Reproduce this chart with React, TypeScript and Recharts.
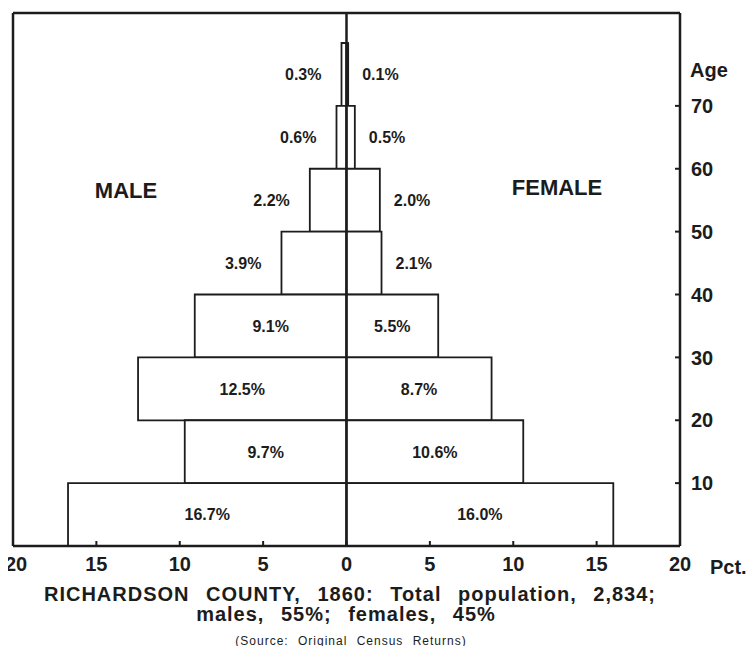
import { BarChart, Bar, XAxis, YAxis, ReferenceLine, LabelList } from "recharts";

const AGE_GROUPS = ["0-10", "10-20", "20-30", "30-40", "40-50", "50-60", "60-70", "70-80"];
const MALE_PCT = [16.7, 9.7, 12.5, 9.1, 3.9, 2.2, 0.6, 0.3];
const FEMALE_PCT = [16.0, 10.6, 8.7, 5.5, 2.1, 2.0, 0.5, 0.1];
const PCT_TICKS = [-20, -15, -10, -5, 0, 5, 10, 15, 20];
const AGE_TICKS = [10, 20, 30, 40, 50, 60, 70];

const INK = "#1c1c1c";
const FONT = "'Liberation Sans', Arial, sans-serif";
const TOP_GAP = 30;

// labels sit inside wide bars, outside narrow ones
const renderLabel = (side: "male" | "female") => (props: any) => {
  const { x, y, width, height, value } = props;
  const v = Math.abs(Number(value));
  const left = Math.min(x, x + width);
  const right = Math.max(x, x + width);
  let tx = (left + right) / 2;
  let anchor: "middle" | "end" | "start" = "middle";
  if (v < 5) {
    if (side === "male") {
      tx = left - 20;
      anchor = "end";
    } else {
      tx = right + 14;
      anchor = "start";
    }
  }
  return (
    <text x={tx} y={y + height / 2} dy="0.36em" textAnchor={anchor} fontSize={16} fontWeight={700} fill={INK} fontFamily={FONT}>
      {v.toFixed(1)}%
    </text>
  );
};

// percent ticks, left-most one nudged so it stays on the page
function PctTick(props: any) {
  const { x, y, payload } = props;
  const nudge = payload.value === PCT_TICKS[0] ? 3 : 0;
  return (
    <text x={x + nudge} y={y} dy="0.71em" textAnchor="middle" fontSize={20} fontWeight={700} fill={INK} fontFamily={FONT}>
      {Math.abs(payload.value)}
    </text>
  );
}

// age ticks sit on the lower edge of each band
function AgeTick(props: any) {
  const { x, y, payload, height, visibleTicksCount } = props;
  const from = parseInt(String(payload.value), 10);
  if (!AGE_TICKS.includes(from)) return null;
  let half = payload.offset;
  if (!half || half <= 0) half = (height - TOP_GAP) / visibleTicksCount / 2;
  const ty = y + half;
  return (
    <g>
      <line x1={x - 5} y1={ty} x2={x} y2={ty} stroke={INK} strokeWidth={2} />
      <text x={x + 11} y={ty} dy="0.36em" fontSize={20} fontWeight={700} fill={INK} fontFamily={FONT}>
        {from}
      </text>
    </g>
  );
}

export default function App() {
  const data = AGE_GROUPS.map((age, i) => ({ age, male: -MALE_PCT[i], female: FEMALE_PCT[i] })).reverse();

  return (
    <div style={{ position: "relative", width: 754, height: 654, margin: -8, background: "#fff", fontFamily: FONT }}>
      <BarChart
        width={754}
        height={654}
        data={data}
        layout="vertical"
        stackOffset="sign"
        barCategoryGap={0}
        margin={{ top: 11, right: 14, bottom: 78, left: 13 }}
      >
        <XAxis
          type="number"
          domain={[-20, 20]}
          ticks={PCT_TICKS}
          allowDataOverflow
          interval={0}
          axisLine={{ stroke: INK, strokeWidth: 2.5 }}
          tickLine={{ stroke: INK, strokeWidth: 2 }}
          tickSize={-5}
          tickMargin={16}
          tick={<PctTick />}
          height={30}
        />
        <XAxis
          xAxisId="top"
          type="number"
          orientation="top"
          domain={[-20, 20]}
          ticks={PCT_TICKS}
          allowDataOverflow
          tick={false}
          tickLine={false}
          axisLine={{ stroke: INK, strokeWidth: 2.5 }}
          height={2}
        />
        <YAxis
          yAxisId="band"
          type="category"
          dataKey="age"
          orientation="right"
          width={60}
          interval={0}
          padding={{ top: TOP_GAP, bottom: 0 }}
          axisLine={{ stroke: INK, strokeWidth: 2.5 }}
          tickLine={false}
          tickSize={0}
          tickMargin={0}
          tick={<AgeTick />}
        />
        <ReferenceLine yAxisId="band" x={-20} stroke={INK} strokeWidth={2.5} />
        <Bar dataKey="male" stackId="p" yAxisId="band" fill="#fff" stroke={INK} strokeWidth={1.8} isAnimationActive={false}>
          <LabelList dataKey="male" content={renderLabel("male")} />
        </Bar>
        <Bar dataKey="female" stackId="p" yAxisId="band" fill="#fff" stroke={INK} strokeWidth={1.8} isAnimationActive={false}>
          <LabelList dataKey="female" content={renderLabel("female")} />
        </Bar>
        <ReferenceLine yAxisId="band" x={0} stroke={INK} strokeWidth={2.5} />
      </BarChart>

      <svg width={754} height={654} style={{ position: "absolute", left: 0, top: 0, pointerEvents: "none" }}>
        <g fill={INK} fontFamily={FONT} fontWeight={700}>
          <text x={126} y={198} fontSize={22} textAnchor="middle">MALE</text>
          <text x={557} y={195} fontSize={22} textAnchor="middle">FEMALE</text>
          <text x={690} y={77} fontSize={20}>Age</text>
          <text x={710} y={574} fontSize={20}>Pct.</text>
          <text x={350} y={601} fontSize={20} textAnchor="middle" letterSpacing={1} wordSpacing={10}>
            RICHARDSON COUNTY, 1860: Total population, 2,834;
          </text>
          <text x={346} y={621} fontSize={20} textAnchor="middle" letterSpacing={1} wordSpacing={10}>
            males, 55%; females, 45%
          </text>
          <text x={351} y={645} fontSize={12} fontWeight={400} textAnchor="middle" letterSpacing={1} wordSpacing={5}>
            (Source: Original Census Returns)
          </text>
        </g>
      </svg>
    </div>
  );
}
